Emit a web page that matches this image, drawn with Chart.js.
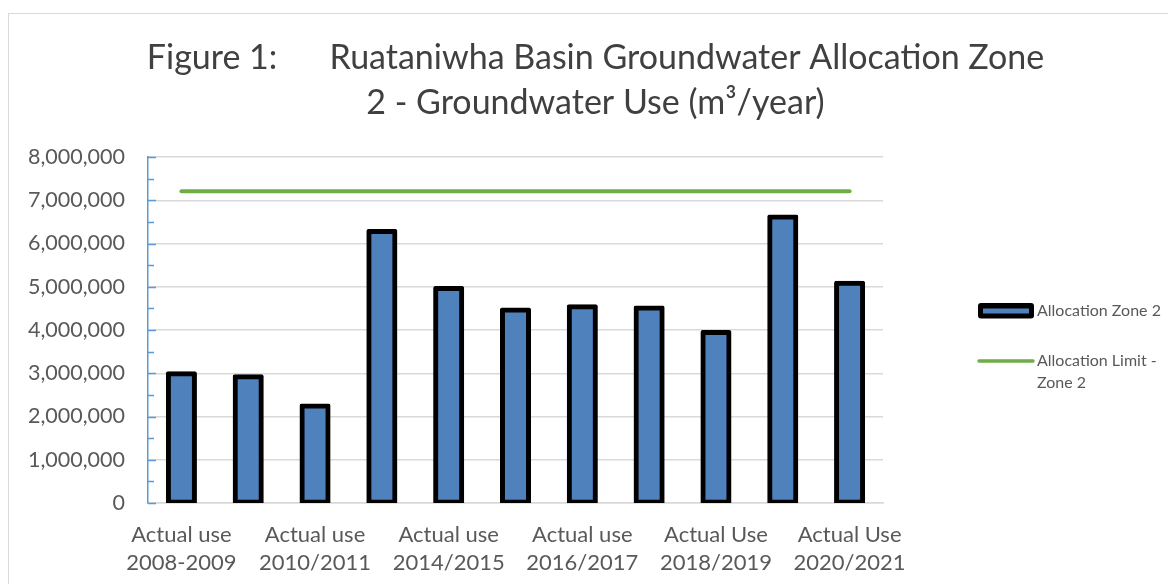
<!DOCTYPE html>
<html>
<head>
<meta charset="utf-8">
<title>Ruataniwha Basin Zone 2 - Groundwater Use</title>
<script src="https://cdn.jsdelivr.net/npm/chart.js@4/dist/chart.umd.min.js"></script>
<style>
  html, body { margin: 0; padding: 0; background: #fff; }
  #wrap { position: relative; width: 1168px; height: 584px; overflow: hidden; }
  #frame {
    position: absolute; left: 8px; top: 13px; right: -2px; bottom: -2px;
    border-left: 1.5px solid #d9d9d9; border-top: 1.5px solid #d9d9d9;
    pointer-events: none;
  }
</style>
</head>
<body>
<div id="wrap">
  <canvas id="chart" width="1168" height="584"></canvas>
  <div id="frame"></div>
</div>
<script>
// data
const categories = [
  "Actual use 2008-2009",
  "Actual use 2009/2010",
  "Actual use 2010/2011",
  "Actual use 2013/2014",
  "Actual use 2014/2015",
  "Actual use 2015/2016",
  "Actual use 2016/2017",
  "Actual use 2017/2018",
  "Actual Use 2018/2019",
  "Actual Use 2019/2020",
  "Actual Use 2020/2021",
];
const zone2Use = [2990000, 2920000, 2240000, 6280000, 4960000, 4460000, 4540000, 4510000, 3940000, 6610000, 5080000];
const allocationLimit = [7210000, 7210000, 7210000, 7210000, 7210000, 7210000, 7210000, 7210000, 7210000, 7210000, 7210000];
const seriesNames = ["Allocation Zone 2", "Allocation Limit - Zone 2"];
const titleLines = [
  "Figure 1:      Ruataniwha Basin Groundwater Allocation Zone",
  "2 - Groundwater Use (m\u00b3/year)",
];
const yMin = 0, yMax = 8000000, yStep = 1000000;

const BLUE = "#4f81bd";
const GREEN = "#70ad47";
const TEXT = "#595959";

// small inside tick marks on the value axis (major + minor)
const axisTicks = {
  id: "axisTicks",
  afterDatasetsDraw(chart) {
    const s = chart.scales.y;
    const ctx = chart.ctx;
    ctx.save();
    ctx.strokeStyle = "#5b9bd5";
    ctx.lineWidth = 1.5;
    for (let v = yMin; v <= yMax; v += yStep / 2) {
      const y = Math.round(s.getPixelForValue(v)) + 0.5;
      const len = v % yStep === 0 ? 8 : 6;
      ctx.beginPath();
      ctx.moveTo(s.right, y);
      ctx.lineTo(s.right + len, y);
      ctx.stroke();
    }
    ctx.restore();
  }
};

// legend at the right, text wrapped like the original
const sideLegend = {
  id: "sideLegend",
  afterDraw(chart) {
    const ctx = chart.ctx;
    const x0 = chart.chartArea.right + 95;
    const textX = x0 + 59;
    const maxW = chart.width - textX - 1;
    const lineH = 21.5;
    ctx.save();
    ctx.font = "16px Lato";
    ctx.textBaseline = "middle";
    let y = 311;
    chart.data.datasets.forEach(ds => {
      if (ds.type === "line") {
        ctx.strokeStyle = ds.borderColor;
        ctx.lineWidth = 3.5;
        ctx.lineCap = "round";
        ctx.beginPath();
        ctx.moveTo(x0 + 1, y);
        ctx.lineTo(x0 + 55, y);
        ctx.stroke();
      } else {
        ctx.fillStyle = ds.borderColor;
        ctx.beginPath();
        ctx.roundRect(x0, y - 8, 56, 15.5, 3);
        ctx.fill();
        ctx.fillStyle = ds.backgroundColor;
        ctx.fillRect(x0 + 5, y - 2.5, 46, 5);
      }
      // wrap label
      const words = ds.label.split(" ");
      const lines = [];
      let cur = "";
      words.forEach(w => {
        const test = cur ? cur + " " + w : w;
        if (cur && ctx.measureText(test).width > maxW) { lines.push(cur); cur = w; }
        else cur = test;
      });
      if (cur) lines.push(cur);
      ctx.fillStyle = TEXT;
      lines.forEach((l, j) => ctx.fillText(l, textX, y + j * lineH));
      y += lines.length * lineH + 28.5;
    });
    ctx.restore();
  }
};

new Chart(document.getElementById("chart"), {
  data: {
    labels: categories,
    datasets: [
      {
        type: "bar",
        label: seriesNames[0],
        data: zone2Use,
        backgroundColor: BLUE,
        borderColor: "#000000",
        borderWidth: 5,
        borderSkipped: false,
        borderRadius: 2,
        inflateAmount: 2.5,
        barPercentage: 0.39,
        categoryPercentage: 1,
      },
      {
        type: "line",
        label: seriesNames[1],
        data: allocationLimit,
        borderColor: GREEN,
        borderWidth: 4,
        borderCapStyle: "round",
        pointRadius: 0,
        fill: false,
      },
    ],
  },
  options: {
    responsive: false,
    animation: false,
    devicePixelRatio: 1,
    layout: { padding: { left: 23, right: 0, top: 0, bottom: 0 } },
    plugins: {
      legend: { display: false },
      tooltip: { enabled: false },
      title: {
        display: true,
        text: titleLines,
        color: "#404040",
        font: { family: "Lato", size: 34, weight: "normal", lineHeight: 45 / 34 },
        padding: { top: 36, bottom: 31 },
      },
    },
    scales: {
      x: {
        offset: true,
        grid: { display: false, drawTicks: false },
        border: { display: true, color: "#d9d9d9", width: 1.5 },
        ticks: {
          autoSkip: false,
          maxRotation: 0,
          minRotation: 0,
          padding: 18,
          color: TEXT,
          font: { family: "Lato", size: 22, lineHeight: 28 / 22 },
          callback: function (value, index) {
            if (index % 2 !== 0) return "";
            const label = this.getLabelForValue(value);
            const cut = label.lastIndexOf(" ");
            return [label.slice(0, cut), label.slice(cut + 1)];
          },
        },
        afterFit: s => { s.height = 81; },
      },
      y: {
        min: yMin,
        max: yMax,
        grid: { color: "#d9d9d9", lineWidth: 1.5, drawTicks: false },
        border: { display: true, color: "#5b9bd5", width: 1.5 },
        ticks: {
          stepSize: yStep,
          padding: 23,
          color: TEXT,
          font: { family: "Lato", size: 21.5 },
          callback: v => v.toLocaleString("en-US"),
        },
        afterFit: s => { s.width = 125; },
      },
      gap: {
        type: "linear",
        position: "right",
        display: true,
        grid: { display: false, drawTicks: false },
        border: { display: false },
        ticks: { display: false },
        afterFit: s => { s.width = 285; },
      },
    },
  },
  plugins: [axisTicks, sideLegend],
});
</script>
</body>
</html>
